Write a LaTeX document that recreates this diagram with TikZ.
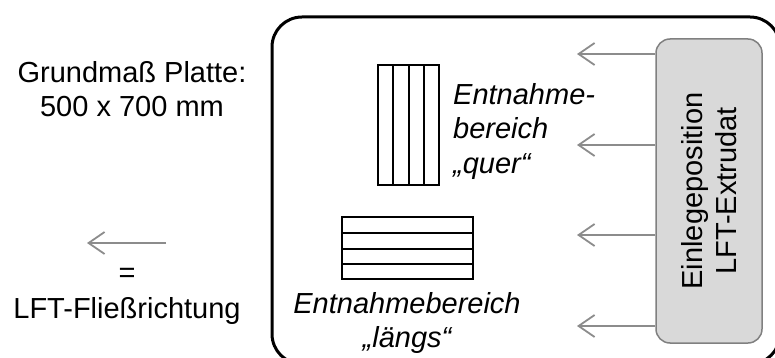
\documentclass[tikz,border=0pt]{standalone}
\usepackage{fontspec}
\setmainfont{Liberation Sans}
\usetikzlibrary{arrows.meta}
\definecolor{flowgray}{HTML}{8C8C8C}
\definecolor{boxgray}{HTML}{D9D9D9}
\definecolor{boxline}{HTML}{808080}
\tikzset{
  flowarrow/.style={draw=flowgray, line width=1.8pt, -{Straight Barb[length=16pt,width=22pt,line width=1.8pt]}},
  stripline/.style={draw=black, line width=1.6pt},
  txt/.style={inner sep=0pt, font=\fontsize{29}{34.5}\selectfont},
}
\begin{document}
\begin{tikzpicture}[x=1pt,y=-1pt]
\useasboundingbox (0,0) rectangle (775,358);
% Platte
\draw[line width=3pt, rounded corners=30pt] (272,17) rectangle (780,364);
% Einlegeposition
\node[txt, draw=boxline, fill=boxgray, line width=1.5pt, rounded corners=14pt,
  minimum width=106pt, minimum height=304pt] (einlage) at (709,191) {};
\node[txt, rotate=90, align=center] (einlagetxt) at (einlage.center) {Einlegeposition\\LFT-Extrudat};
\coordinate (tip1) at (577,54);
\coordinate (tip2) at (577,145);
\coordinate (tip3) at (577,235);
\coordinate (tip4) at (577,326);
\foreach \i in {1,...,4}
  \draw[flowarrow] (einlage.west |- tip\i) -- (tip\i);
% Entnahmebereich quer
\draw[stripline] (378,65) rectangle (439,185);
\foreach \x in {393,409,424}
  \draw[stripline] (\x,65) -- (\x,185);
\node[txt, align=left, anchor=north west, font=\fontsize{29}{34.5}\selectfont\itshape] (quer) at (453,83) {Entnahme-\\bereich\\„quer“};
% Entnahmebereich laengs
\draw[stripline] (342,217) rectangle (473,279);
\foreach \y in {233,249,264}
  \draw[stripline] (342,\y) -- (473,\y);
\node[txt, align=center, anchor=north, font=\fontsize{29}{34.5}\selectfont\itshape] (laengs) at (407,292) {Entnahmebereich\\„längs“};
% Legende
\node[txt, align=center] (grundmass) at (132,89) {Grundmaß Platte:\\500 x 700 mm};
\coordinate (legstart) at (166,243);
\coordinate (legend) at (87,243);
\draw[flowarrow] (legstart) -- (legend);
\node[txt] (gleich) at (127,275) {=};
\node[txt, anchor=base] (fliess) at (127,318) {LFT-Fließrichtung};
\end{tikzpicture}
\end{document}
